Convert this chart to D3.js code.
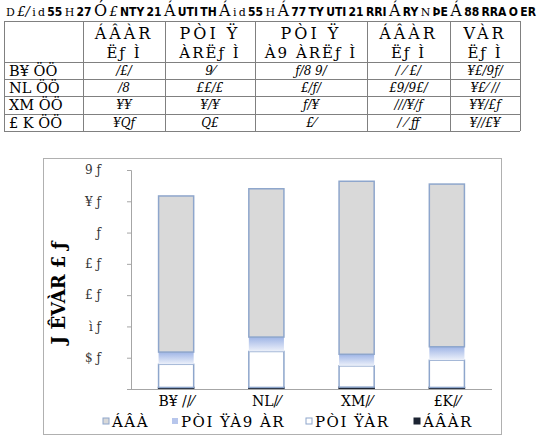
<!DOCTYPE html>
<html>
<head>
<meta charset="utf-8">
<script src="https://cdn.jsdelivr.net/npm/d3@7"></script>
<style>
  body { margin: 0; background: #fff; }
  svg text { font-family: "DejaVu Serif", "Liberation Serif", serif; }
</style>
</head>
<body>
<div id="chart"></div>
<script>
// ---- data ----
const titleParts = [
  ["D", "s"], ["£/", "i"], ["i", "s"], ["d", "s"], ["55", "b"], ["H", "s"], ["27", "b"], ["Ó", "l"],
  ["£", "i"], ["NTY", "b"], ["21", "b"], ["Á", "l"], ["UTI", "b"], ["TH", "b"], ["Á", "l"], ["i", "s"],
  ["d", "s"], ["55", "b"], ["H", "s"], ["Á", "l"], ["77", "b"], ["TY", "b"], ["UTI", "b"], ["21", "b"],
  ["RRI", "b"], ["Á", "l"], ["RY", "b"], ["N", "s"], ["ÞE", "b"], ["Á", "l"], ["88", "b"], ["RRA", "b"], ["O", "b"], ["ER", "b"]
];
const headerTop = ["ÁÂÀR", "PÒI Ÿ", "PÒI Ÿ", "ÁÂÀR", "VÀR"];
const headerBottom = ["Ëƒ Ì", "ÀRËƒ Ì", "À9 ÀRËƒ Ì", "Ëƒ Ì", "Ëƒ Ì"];
const rowLabels = ["B¥ ÖÖ", "NL ÖÖ", "XM ÖÖ", "£ K ÖÖ"];
const tableCells = [
  ["/£/", "9⁄", "ƒ/8 9/", "/ ⁄ £/", "¥£/9ƒ/"],
  ["/8", "££/£", "£/ƒ/", "£9/9£/", "¥£⁄ //"],
  ["¥¥", "¥/¥", "ƒ/¥", "///¥/ƒ", "¥¥/£ƒ"],
  ["¥Qƒ", "Q£", "£⁄", "/ ⁄ ƒƒ", "¥//£¥"]
];

const categories = ["B¥ //⁄", "NL/⁄", "XM/⁄", "£K/⁄"];
const seriesNames = ["ÁÂÀR", "PÒI ŸÀR", "PÒI ŸÀ9 ÀR", "ÁÂÀ"];   // bottom -> top
const seriesBlack = [0.5, 0.5, 0.6, 0.5];
const seriesWhite = [7.4, 11.5, 6.8, 8.7];
const seriesBlue  = [3.9, 4.6, 3.7, 4.3];
const seriesGray  = [49.9, 47.4, 55.3, 52.0];
const yTicks = [0, 10, 20, 30, 40, 50, 60, 70];
const yTickLabels = ["", "$ ƒ", "ì ƒ", "£ ƒ", "£ ƒ", " ƒ", "¥ ƒ", "9 ƒ"];
const yTitle = "J ÊVÀR £ ƒ";
const legendOrder = [3, 2, 1, 0];

const W = 541, H = 438;
const svg = d3.select('#chart').append('svg').attr('width', W).attr('height', H);
svg.append('rect').attr('width', W).attr('height', H).attr('fill', '#fff');

// ---- title line ----
const styles = {
  s: {size: 11, weight: 'normal', family: '"DejaVu Serif", serif', style: 'normal'},
  i: {size: 13, weight: 'normal', family: '"DejaVu Serif", serif', style: 'italic'},
  b: {size: 12, weight: 'bold', family: '"DejaVu Sans Condensed", "DejaVu Sans", sans-serif', style: 'normal'},
  l: {size: 16, weight: 'normal', family: '"DejaVu Serif", serif', style: 'normal'}
};
const title = svg.append('text').attr('x', 6).attr('y', 16);
const spans = titleParts.map(p => {
  const st = styles[p[1]];
  return title.append('tspan').text(p[0])
    .style('font-size', st.size + 'px').style('font-weight', st.weight)
    .style('font-family', st.family).style('font-style', st.style);
});
// spread the pieces over the full width
const natural = title.node().getComputedTextLength();
const gap = Math.max(1, (530 - natural) / (titleParts.length - 1));
spans.forEach((s, i) => { if (i) s.attr('dx', gap); });

// ---- table ----
const colEdges = [4, 83, 165, 255, 367, 450, 520];
const rowEdges = [21, 62, 79, 96, 114, 131];
const tbl = svg.append('g').attr('stroke', '#808080').attr('stroke-width', 1);
rowEdges.forEach(y => tbl.append('line').attr('x1', colEdges[0]).attr('x2', colEdges[6]).attr('y1', y + .5).attr('y2', y + .5));
colEdges.forEach(x => tbl.append('line').attr('x1', x + .5).attr('x2', x + .5).attr('y1', rowEdges[0]).attr('y2', rowEdges[5]));

headerTop.forEach((t, i) => {
  const cx = (colEdges[i + 1] + colEdges[i + 2]) / 2;
  svg.append('text').attr('x', cx).attr('y', 39).attr('text-anchor', 'middle')
    .style('font-size', '16px').style('letter-spacing', '3px').text(t);
  svg.append('text').attr('x', cx).attr('y', 58).attr('text-anchor', 'middle')
    .style('font-size', '15px').style('letter-spacing', '2px').text(headerBottom[i]);
});
rowLabels.forEach((r, j) => {
  const cy = (rowEdges[j + 1] + rowEdges[j + 2]) / 2;
  svg.append('text').attr('x', 9).attr('y', cy + 5).style('font-size', '14.5px').text(r);
  tableCells[j].forEach((c, i) => {
    const cx = (colEdges[i + 1] + colEdges[i + 2]) / 2;
    svg.append('text').attr('x', cx).attr('y', cy + 4).attr('text-anchor', 'middle')
      .style('font-size', '12px').style('font-style', 'italic').text(c);
  });
});

// ---- chart box ----
svg.append('rect').attr('x', 43.5).attr('y', 158.5).attr('width', 458).attr('height', 276)
  .attr('fill', 'none').attr('stroke', '#b0b0b0');

const x = d3.scaleBand().domain(categories).range([131, 492]).paddingInner(0.6).paddingOuter(0.3);
const y = d3.scaleLinear().domain([0, 70]).range([389, 170]);

const defs = svg.append('defs');
const grad = defs.append('linearGradient').attr('id', 'blueGrad').attr('x1', 0).attr('x2', 0).attr('y1', 0).attr('y2', 1);
grad.append('stop').attr('offset', '0%').attr('stop-color', '#9fb5e6');
grad.append('stop').attr('offset', '100%').attr('stop-color', '#edf1fa');

const tableData = categories.map((c, i) => ({
  cat: c, s0: seriesBlack[i], s1: seriesWhite[i], s2: seriesBlue[i], s3: seriesGray[i]
}));
const stack = d3.stack().keys(['s0', 's1', 's2', 's3'])(tableData);
const fills = ['#1c2433', '#ffffff', 'url(#blueGrad)', '#d9d9d9'];
const strokes = ['#1c2433', '#8ea6cc', 'none', '#8ea6cc'];

// axis
const yAxis = svg.append('g').attr('transform', 'translate(131,0)')
  .call(d3.axisLeft(y).tickValues(yTicks).tickSize(4).tickFormat((d, i) => yTickLabels[i]));
yAxis.select('.domain').attr('stroke', '#a6a6a6');
yAxis.selectAll('.tick line').attr('stroke', '#a6a6a6');
yAxis.selectAll('.tick text').attr('x', -30).attr('fill', '#333')
  .style('font-family', '"DejaVu Serif", serif').style('font-size', '12px');

stack.forEach((layer, k) => {
  svg.append('g').selectAll('rect').data(layer).join('rect')
    .attr('x', d => x(d.data.cat) + .5)
    .attr('y', d => y(d[1]))
    .attr('width', x.bandwidth() - 1)
    .attr('height', d => y(d[0]) - y(d[1]))
    .attr('fill', fills[k]).attr('stroke', strokes[k]).attr('stroke-width', 1.5);
});

svg.append('line').attr('x1', 127).attr('x2', 492).attr('y1', 389.5).attr('y2', 389.5).attr('stroke', '#a6a6a6');

// category labels
svg.append('g').selectAll('text').data(categories).join('text')
  .attr('x', d => x(d) + x.bandwidth() / 2).attr('y', 406).attr('text-anchor', 'middle')
  .style('font-size', '14px').text(d => d);

// y title
svg.append('text').attr('transform', 'translate(65,293) rotate(-90)').attr('text-anchor', 'middle')
  .style('font-size', '18px').style('font-weight', 'bold').text(yTitle);

// legend
const legX = [103, 172, 306, 414];
const lg = svg.append('g');
legendOrder.forEach((k, i) => {
  lg.append('rect').attr('x', legX[i]).attr('y', 418).attr('width', 6).attr('height', 6)
    .attr('fill', k === 2 ? '#b7c6ec' : fills[k]).attr('stroke', k === 2 ? 'none' : strokes[k]);
  lg.append('text').attr('x', legX[i] + 9).attr('y', 427).style('font-size', '15px')
    .style('letter-spacing', '1.5px').text(seriesNames[k]);
});
</script>
</body>
</html>
